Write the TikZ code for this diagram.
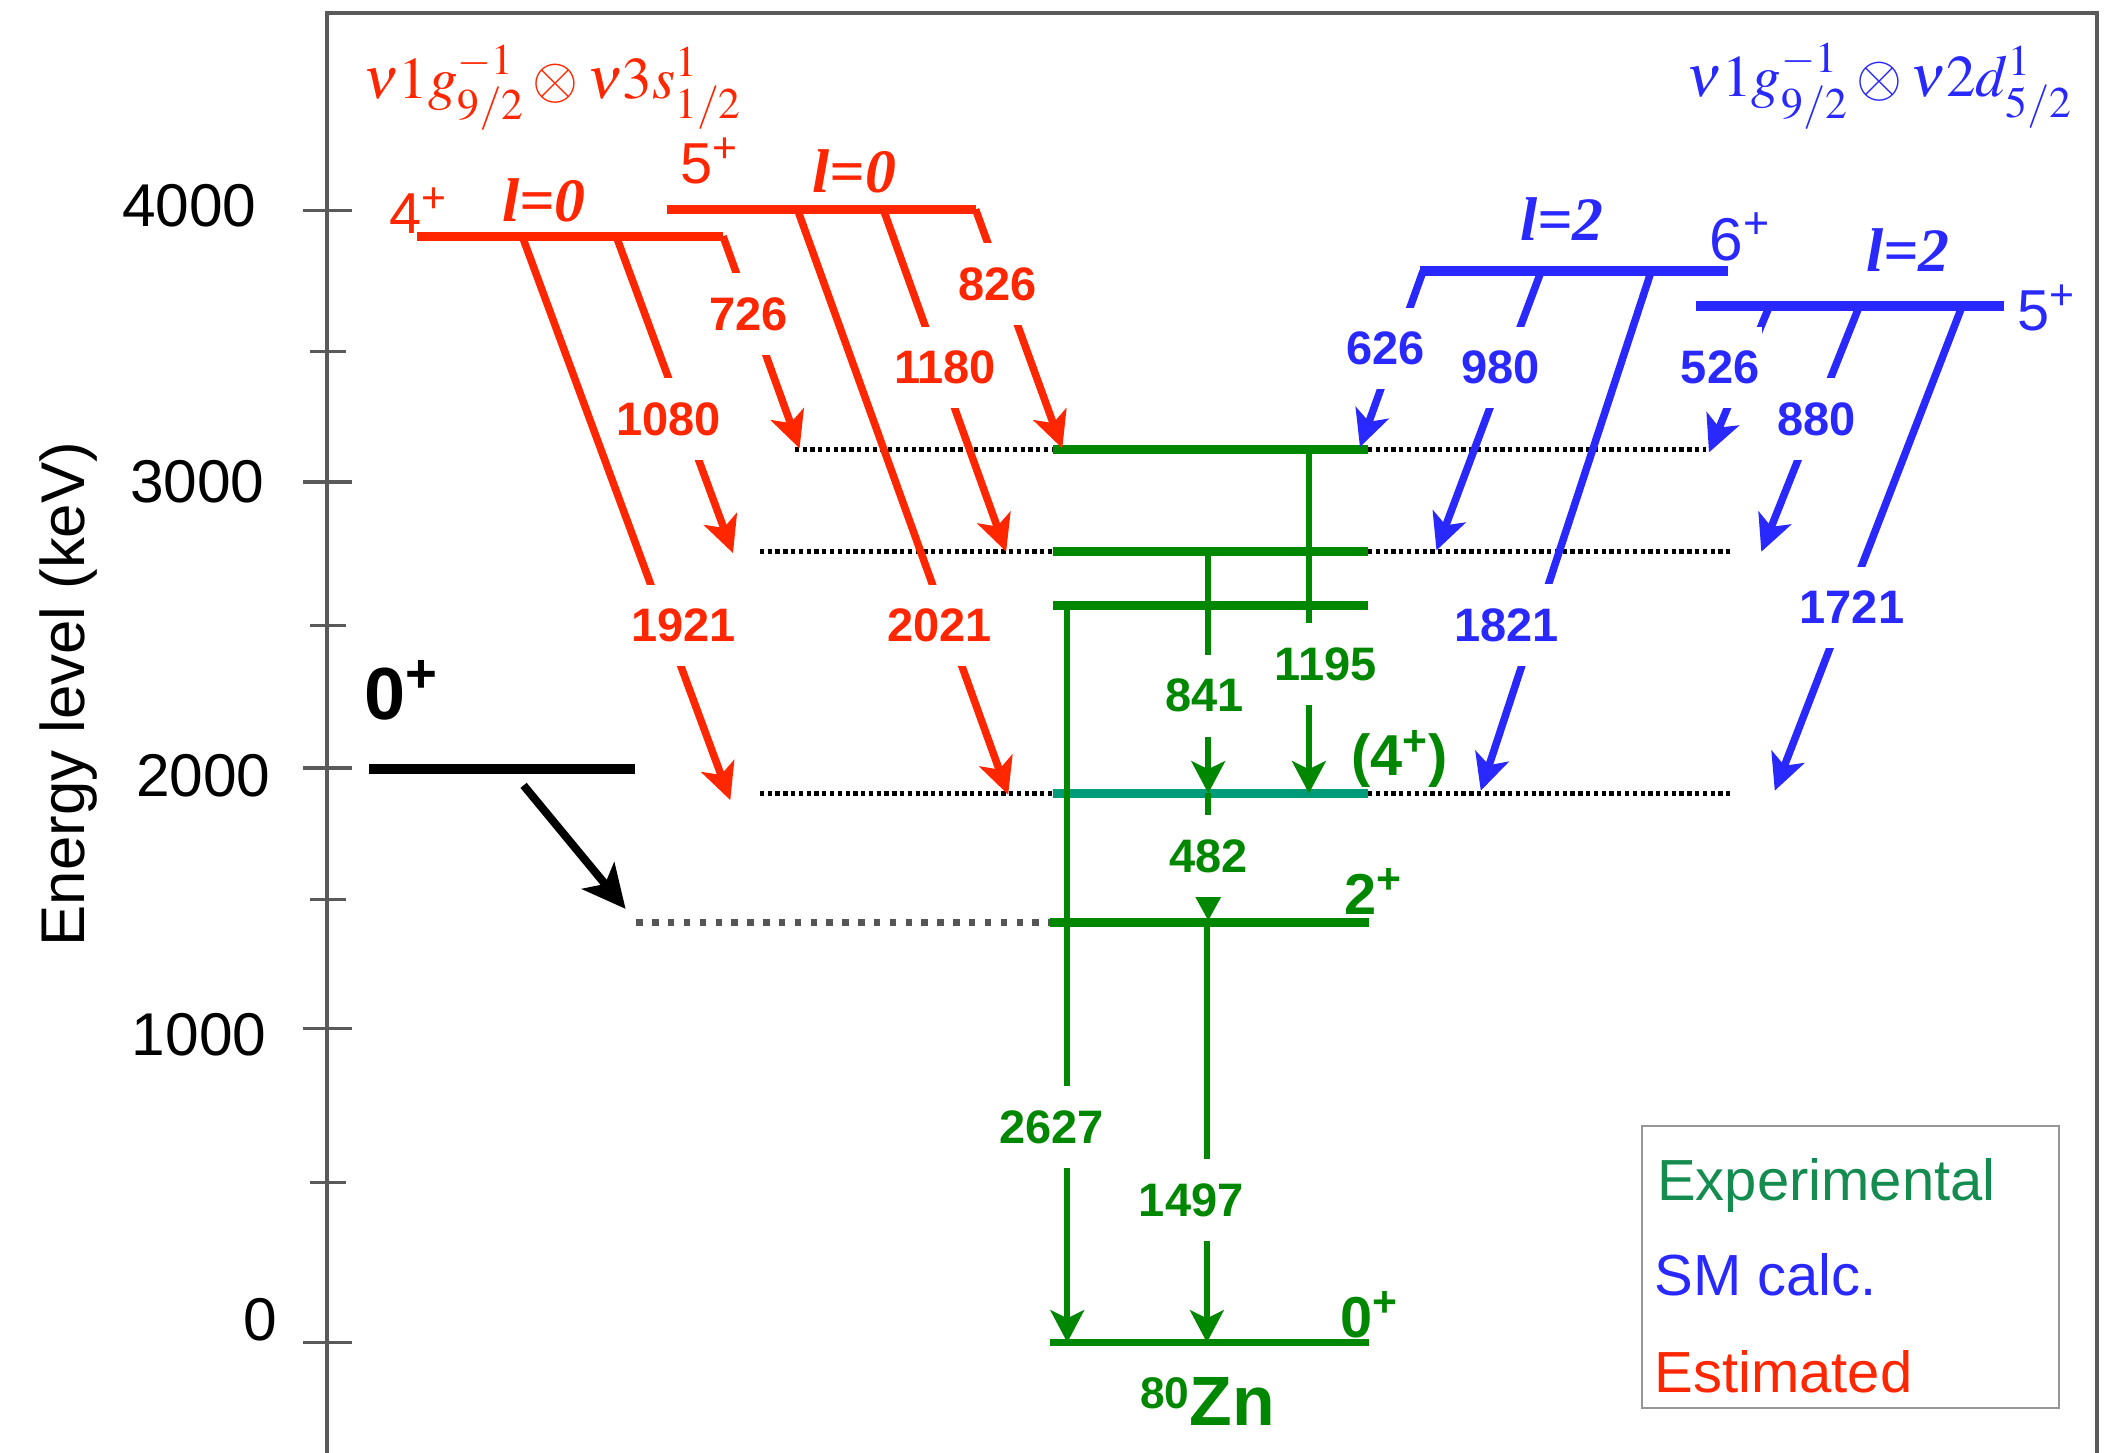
\documentclass[tikz,border=0pt]{standalone}
\usepackage{mathptmx}
\usepackage[no-math]{fontspec}
\setmainfont{Liberation Sans}
\newfontfamily\tnr{Liberation Serif}
\usetikzlibrary{arrows.meta}
\newcommand\fsz[1]{\fontsize{#1}{#1}\selectfont}
\definecolor{cred}{RGB}{255,38,0}
\definecolor{cblue}{RGB}{40,40,255}
\definecolor{cgreen}{RGB}{0,135,0}
\definecolor{cteal}{RGB}{0,155,120}
\definecolor{clegg}{RGB}{20,140,80}
\definecolor{caxis}{RGB}{90,90,90}
\definecolor{cgrey}{RGB}{85,85,85}
\definecolor{cbox}{RGB}{150,150,150}
\begin{document}
\begin{tikzpicture}[x=0.5pt,y=-0.5pt,
  myaxis/.style={line width=1.5pt,caxis},
  mytick/.style={line width=1.2pt,caxis},
  axlbl/.style={inner sep=0pt,font=\fsz{22.5}},
  mylev/.style={line width=3.5pt},
  glev/.style={line width=3.3pt,cgreen},
  mytr/.style={line width=2.8pt},
  gtr/.style={line width=2.3pt,cgreen},
  myarr/.style={-{Stealth[length=13.5pt,width=13pt,inset=3.5pt]}},
  garr/.style={-{Stealth[length=12pt,width=12.5pt,inset=3pt]}},
  tlbl/.style={fill=white,inner xsep=1pt,inner ysep=9pt,font=\bfseries\fsz{17.5}},
  mydot/.style={line width=2pt,dash pattern=on 1.6pt off 1.3pt,black},
  greydot/.style={line width=2.5pt,dash pattern=on 2.4pt off 3.5pt,cgrey},
  jlbl/.style={anchor=base west,inner sep=0pt,font=\fsz{21.5}},
  gjlbl/.style={anchor=base west,inner sep=0pt,font=\bfseries\fsz{21.5},text=cgreen},
  llbl/.style={anchor=base west,inner sep=0pt,font=\tnr\bfseries\itshape\fsz{23}},
  leglbl/.style={anchor=base west,inner sep=0pt,font=\fsz{21.6}}]
\useasboundingbox (0,0) rectangle (1568,1082);

% frame
\coordinate (fbl) at (243.6,1082); \coordinate (ftl) at (243.6,9.4);
\coordinate (ftr) at (1562,9.4); \coordinate (fbr) at (1562,1082);
\draw[myaxis] (fbl) -- (ftl) -- (ftr) -- (fbr);
\foreach \y in {157,359,572,766,1000} \draw[mytick] (226,\y) -- (262,\y);
\foreach \y in {262,466,670,881} \draw[mytick] (231,\y) -- (258,\y);
\node[axlbl] (a4000) at (141,153.5) {4000};
\node[axlbl] (a3000) at (147,358.7) {3000};
\node[axlbl] (a2000) at (151.5,577.6) {2000};
\node[axlbl] (a1000) at (148.3,770.7) {1000};
\node[axlbl] (a0) at (194,983) {0};
\node[rotate=90,inner sep=0pt,font=\fsz{23}] (ylab) at (51,517) {Energy level (keV)};

% configuration labels
\node[anchor=base west,inner sep=0pt,text=cred,font=\fsz{22}] (confA) at (270,73) {$\nu 1 g^{-1}_{9/2}\otimes \nu 3 s^{1}_{1/2}$};
\node[anchor=base west,inner sep=0pt,text=cblue,font=\fsz{22}] (confB) at (1256,72) {$\nu 1 g^{-1}_{9/2}\otimes \nu 2 d^{1}_{5/2}$};

% ---------- level coordinates
\coordinate (r4L) at (310.6,176); \coordinate (r4R) at (538.6,176);
\coordinate (r5L) at (496.8,156); \coordinate (r5R) at (726.7,156);
\coordinate (b6L) at (1058,202); \coordinate (b6R) at (1287.3,202);
\coordinate (b5L) at (1263.3,228); \coordinate (b5R) at (1492.6,228);
\coordinate (g1L) at (784,335); \coordinate (g1R) at (1019,335);
\coordinate (g2L) at (784,411); \coordinate (g2R) at (1019,411);
\coordinate (g3L) at (784,451); \coordinate (g3R) at (1019,451);
\coordinate (g4L) at (784,591); \coordinate (g4R) at (1019,591);
\coordinate (g5L) at (782,687); \coordinate (g5R) at (1020,687);
\coordinate (g0L) at (782,1000); \coordinate (g0R) at (1020,1000);
\coordinate (k0L) at (275,573); \coordinate (k0R) at (473,573);

% dotted guide lines
\coordinate (d1a) at (592,335); \coordinate (d1b) at (1271,335);
\coordinate (d2a) at (566,411); \coordinate (d2b) at (1291,411);
\coordinate (d4a) at (566,591); \coordinate (d4b) at (1289,591);
\coordinate (d5a) at (474,687);
\draw[mydot] (d1a) -- (g1L); \draw[mydot] (g1R) -- (d1b);
\draw[mydot] (d2a) -- (g2L); \draw[mydot] (g2R) -- (d2b);
\draw[mydot] (d4a) -- (g4L); \draw[mydot] (g4R) -- (d4b);
\draw[greydot] (d5a) -- (g5L);

% levels
\draw[mylev,cred] (r4L) -- (r4R);
\draw[mylev,cred] (r5L) -- (r5R);
\draw[mylev,cblue] (b6L) -- (b6R);
\draw[mylev,cblue] (b5L) -- (b5R);
\draw[glev] (g1L) -- (g1R);
\draw[glev] (g2L) -- (g2R);
\draw[glev] (g3L) -- (g3R);
\draw[glev,cteal] (g4L) -- (g4R);
\draw[glev] (g5L) -- (g5R);
\draw[glev,line width=2.8pt] (g0L) -- (g0R);
\draw[mylev,black,line width=3.7pt] (k0L) -- (k0R);

% ---------- red transitions
\coordinate (s1921) at (389,176); \coordinate (e1921) at (544,596);
\coordinate (s1080) at (459,176); \coordinate (e1080) at (546,412);
\coordinate (s726) at (538.6,176); \coordinate (e726) at (595.6,334);
\coordinate (s2021) at (594,156); \coordinate (e2021) at (751,592);
\coordinate (s1180) at (658,156); \coordinate (e1180) at (749.5,411);
\coordinate (s826) at (726.7,156); \coordinate (e826) at (791.3,334);
\foreach \t in {1921,1080,726,2021,1180,826}
  \draw[mytr,cred,myarr] (s\t) -- (e\t);

% ---------- blue transitions
\coordinate (s626) at (1060,202); \coordinate (e626) at (1013,333);
\coordinate (s980) at (1148,202); \coordinate (e980) at (1070,410);
\coordinate (s1821) at (1230,202); \coordinate (e1821) at (1103,589);
\coordinate (s526) at (1318,228); \coordinate (e526) at (1273,337);
\coordinate (s880) at (1385,228); \coordinate (e880) at (1312,411);
\coordinate (s1721) at (1461.6,228); \coordinate (e1721) at (1322,589);
\foreach \t in {626,980,1821,526,880,1721}
  \draw[mytr,cblue,myarr] (s\t) -- (e\t);

% ---------- green transitions
\coordinate (s1195) at (975,335); \coordinate (e1195) at (975,591);
\coordinate (s841) at (900,411); \coordinate (e841) at (900,591);
\coordinate (s482) at (900,591); \coordinate (e482) at (900,686);
\coordinate (s2627) at (795,451); \coordinate (e2627) at (795,1000);
\coordinate (s1497) at (899,687); \coordinate (e1497) at (899,1000);
\draw[gtr,garr] (s1195) -- (e1195);
\draw[gtr,garr] (s841) -- (e841);
\draw[gtr,-{Triangle[length=9pt,width=9pt]}] (s482) -- (e482);
\draw[gtr,garr] (s2627) -- (e2627);
\draw[gtr,garr] (s1497) -- (e1497);

% black arrow
\coordinate (bs) at (390,585); \coordinate (be) at (466,677);
\draw[line width=3pt,-{Stealth[length=16pt,width=15.5pt,inset=4pt]}] (bs) -- (be);

% ---------- transition labels
\node[tlbl,text=cred] (l1921) at (509,466) {1921};
\node[tlbl,text=cred] (l1080) at (497.8,312) {1080};
\node[tlbl,text=cred] (l726) at (557.6,234) {726};
\node[tlbl,text=cred] (l2021) at (700,466) {2021};
\node[tlbl,text=cred] (l1180) at (704,273.7) {1180};
\node[tlbl,text=cred] (l826) at (742.9,211.7) {826};
\node[tlbl,text=cblue] (l626) at (1031.9,259.5) {626};
\node[tlbl,text=cblue] (l980) at (1117.8,273.7) {980};
\node[tlbl,text=cblue] (l526) at (1281.3,273.7) {526};
\node[tlbl,text=cblue] (l880) at (1353,312) {880};
\node[tlbl,text=cblue] (l1821) at (1122.3,465.5) {1821};
\node[tlbl,text=cblue] (l1721) at (1379.5,452.5) {1721};
\node[tlbl,text=cgreen] (l841) at (897,518.3) {841};
\node[tlbl,text=cgreen] (l1195) at (987.6,494.7) {1195};
\node[tlbl,text=cgreen] (l482) at (900.5,637.8) {482};
\node[tlbl,text=cgreen] (l2627) at (783.1,839.5) {2627};
\node[tlbl,text=cgreen] (l1497) at (887.3,893.9) {1497};

% ---------- level labels
\node[jlbl,text=cred] (j4) at (289.6,174) {4\textsuperscript{+}};
\node[jlbl,text=cred] (j5) at (506.3,137) {5\textsuperscript{+}};
\node[jlbl,text=cblue,font=\fsz{22.5}] (j6b) at (1273,194) {6\textsuperscript{+}};
\node[jlbl,text=cblue] (j5b) at (1502.2,246) {5\textsuperscript{+}};
\node[llbl,text=cred] (lA) at (374,165) {l=0};
\node[llbl,text=cred] (lB) at (605,143.5) {l=0};
\node[llbl,text=cblue] (lC) at (1132,179) {l=2};
\node[llbl,text=cblue] (lD) at (1390,202) {l=2};
\node[gjlbl] (jg4) at (1006,578) {(4\textsuperscript{+})};
\node[gjlbl] (jg2) at (1001,681) {2\textsuperscript{+}};
\node[gjlbl] (jg0) at (998,996) {0\textsuperscript{+}};
\node[anchor=base west,inner sep=0pt,font=\bfseries\fsz{27.5}] (jk0) at (271,536) {0\textsuperscript{+}};
\node[anchor=base west,inner sep=0pt,text=cgreen,font=\bfseries] (zn) at (849,1061.5) {\fsz{16.5}\raisebox{6.2pt}{80}\fsz{26}Zn};

% ---------- legend
\node[draw=cbox,line width=0.8pt,anchor=north west,minimum width=155.5pt,minimum height=105pt,inner sep=0pt] (legend) at (1222,838) {};
\node[leglbl,text=clegg] (legE) at (1234,894.5) {Experimental};
\node[leglbl,text=cblue] (legS) at (1232,965) {SM calc.};
\node[leglbl,text=cred] (legR) at (1232,1037) {Estimated};
\end{tikzpicture}
\end{document}
